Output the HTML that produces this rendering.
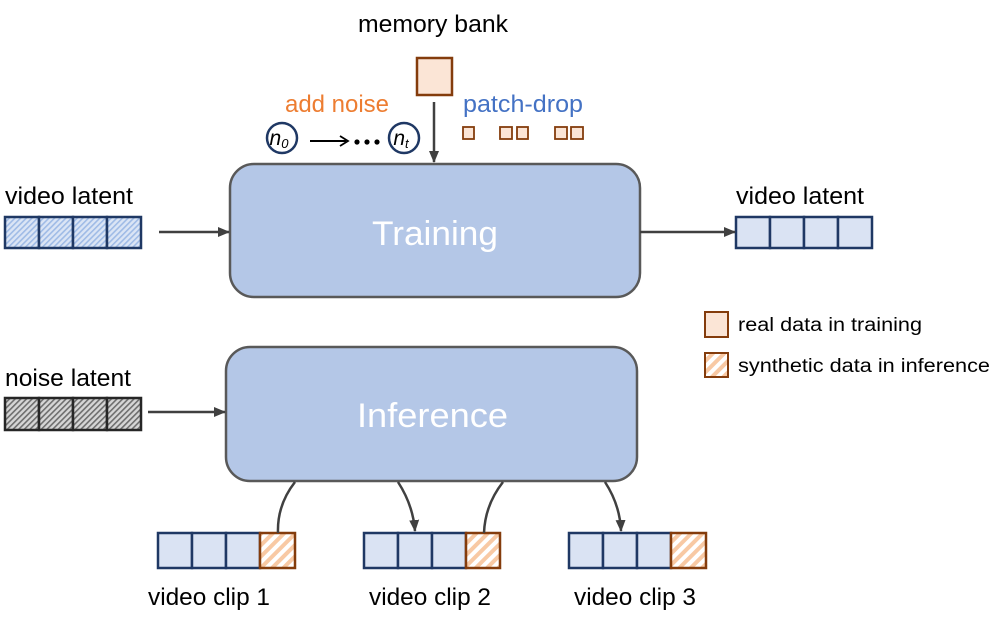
<!DOCTYPE html>
<html><head><meta charset="utf-8"><style>
html,body{margin:0;padding:0;background:#fff;}
svg{display:block;}
text{font-family:"Liberation Sans",sans-serif;}
</style></head><body>
<svg width="996" height="618" viewBox="0 0 996 618" xmlns="http://www.w3.org/2000/svg">
<defs>
<pattern id="hb" width="4" height="4" patternUnits="userSpaceOnUse" patternTransform="rotate(45)">
<rect width="4" height="4" fill="#dbe5f5"/><rect width="1.6" height="4" fill="#9fbbe6"/></pattern>
<pattern id="hg" width="4" height="4" patternUnits="userSpaceOnUse" patternTransform="rotate(45)">
<rect width="4" height="4" fill="#d6d6d6"/><rect width="1.6" height="4" fill="#6e6e6e"/></pattern>
<pattern id="ho" width="8" height="8" patternUnits="userSpaceOnUse" patternTransform="rotate(45)">
<rect width="8" height="8" fill="#fff"/><rect width="4" height="8" fill="#f8c9a4"/></pattern>
<marker id="ar" markerWidth="12" markerHeight="12" refX="11" refY="6" orient="auto" markerUnits="userSpaceOnUse">
<path d="M0,1 L12,6 L0,11 z" fill="#404040"/></marker>
</defs>

<rect x="230" y="164" width="410" height="133" rx="24" fill="#b4c7e7" stroke="#595959" stroke-width="2.5"/>
<text x="372" y="245" font-size="34" fill="#fff" textLength="126" lengthAdjust="spacingAndGlyphs">Training</text>
<rect x="226" y="347" width="411" height="134" rx="24" fill="#b4c7e7" stroke="#595959" stroke-width="2.5"/>
<text x="357" y="427" font-size="34" fill="#fff" textLength="151" lengthAdjust="spacingAndGlyphs">Inference</text>

<text x="5" y="204" font-size="24" textLength="128" lengthAdjust="spacingAndGlyphs">video latent</text>
<g stroke="#1f3864" stroke-width="2.5" fill="url(#hb)">
<rect x="5" y="217" width="34" height="31"/><rect x="39" y="217" width="34" height="31"/><rect x="73" y="217" width="34" height="31"/><rect x="107" y="217" width="34" height="31"/></g>
<line x1="159" y1="232" x2="229" y2="232" stroke="#404040" stroke-width="2.5" marker-end="url(#ar)"/>

<text x="736" y="204" font-size="24" textLength="128" lengthAdjust="spacingAndGlyphs">video latent</text>
<g stroke="#1f3864" stroke-width="2.5" fill="#dae3f3">
<rect x="736" y="217" width="34" height="31"/><rect x="770" y="217" width="34" height="31"/><rect x="804" y="217" width="34" height="31"/><rect x="838" y="217" width="34" height="31"/></g>
<line x1="640" y1="232" x2="735" y2="232" stroke="#404040" stroke-width="2.5" marker-end="url(#ar)"/>

<text x="5" y="386" font-size="24" textLength="126" lengthAdjust="spacingAndGlyphs">noise latent</text>
<g stroke="#262626" stroke-width="2.5" fill="url(#hg)">
<rect x="5" y="398" width="34" height="32"/><rect x="39" y="398" width="34" height="32"/><rect x="73" y="398" width="34" height="32"/><rect x="107" y="398" width="34" height="32"/></g>
<line x1="148" y1="412" x2="225" y2="412" stroke="#404040" stroke-width="2.5" marker-end="url(#ar)"/>

<text x="358" y="32" font-size="24" textLength="150" lengthAdjust="spacingAndGlyphs">memory bank</text>
<rect x="417" y="58" width="35" height="37" fill="#fbe5d6" stroke="#843c0c" stroke-width="2.5"/>
<line x1="434" y1="102" x2="434" y2="162" stroke="#404040" stroke-width="2.5" marker-end="url(#ar)"/>

<text x="285" y="112" font-size="24" fill="#ed7d31" textLength="104" lengthAdjust="spacingAndGlyphs">add noise</text>
<circle cx="282" cy="138" r="15" fill="#fff" stroke="#1f3864" stroke-width="2.5"/>
<text x="279" y="145" font-size="21" font-style="italic" font-family="Liberation Serif,serif" text-anchor="middle">n<tspan font-size="13" dy="3">0</tspan></text>
<circle cx="404" cy="138" r="15" fill="#fff" stroke="#1f3864" stroke-width="2.5"/>
<text x="401" y="145" font-size="21" font-style="italic" font-family="Liberation Serif,serif" text-anchor="middle">n<tspan font-size="13" dy="3">t</tspan></text>
<line x1="310" y1="141" x2="346" y2="141" stroke="#000" stroke-width="2"/>
<path d="M340,136 L348,141 L340,146" fill="none" stroke="#000" stroke-width="1.8"/>
<circle cx="357" cy="142" r="2.6" fill="#000"/><circle cx="367" cy="142" r="2.6" fill="#000"/><circle cx="377" cy="142" r="2.6" fill="#000"/>

<text x="463" y="112" font-size="24" fill="#4472c4" textLength="120" lengthAdjust="spacingAndGlyphs">patch-drop</text>
<g fill="#fbe5d6" stroke="#843c0c" stroke-width="1.8">
<rect x="463" y="127" width="11" height="12"/><rect x="500" y="127" width="12" height="12"/><rect x="517" y="127" width="11" height="12"/><rect x="555" y="127" width="12" height="12"/><rect x="571" y="127" width="12" height="12"/></g>

<rect x="705" y="312" width="23" height="25" fill="#fbe5d6" stroke="#843c0c" stroke-width="2"/>
<text x="738" y="331" font-size="19" textLength="184" lengthAdjust="spacingAndGlyphs">real data in training</text>
<rect x="705" y="353" width="23" height="24" fill="url(#ho)" stroke="#843c0c" stroke-width="2"/>
<text x="738" y="372" font-size="19" textLength="252" lengthAdjust="spacingAndGlyphs">synthetic data in inference</text>

<g stroke-width="2.5">
<g stroke="#1f3864" fill="#dae3f3">
<rect x="158" y="533" width="34" height="35"/><rect x="192" y="533" width="34" height="35"/><rect x="226" y="533" width="34" height="35"/>
<rect x="364" y="533" width="34" height="35"/><rect x="398" y="533" width="34" height="35"/><rect x="432" y="533" width="34" height="35"/>
<rect x="569" y="533" width="34" height="35"/><rect x="603" y="533" width="34" height="35"/><rect x="637" y="533" width="34" height="35"/>
</g>
<g stroke="#843c0c" fill="url(#ho)">
<rect x="260" y="533" width="35" height="35"/><rect x="466" y="533" width="34" height="35"/><rect x="671" y="533" width="35" height="35"/>
</g></g>
<text x="148" y="605" font-size="24" textLength="122" lengthAdjust="spacingAndGlyphs">video clip 1</text>
<text x="369" y="605" font-size="24" textLength="122" lengthAdjust="spacingAndGlyphs">video clip 2</text>
<text x="574" y="605" font-size="24" textLength="122" lengthAdjust="spacingAndGlyphs">video clip 3</text>

<g fill="none" stroke="#404040" stroke-width="2.5">
<path d="M295,482 Q277,505 278,533"/>
<path d="M398,482 Q413,505 415,531" marker-end="url(#ar)"/>
<path d="M503,482 Q485,505 484,533"/>
<path d="M605,482 Q620,505 621,531" marker-end="url(#ar)"/>
</g>
</svg>
</body></html>
